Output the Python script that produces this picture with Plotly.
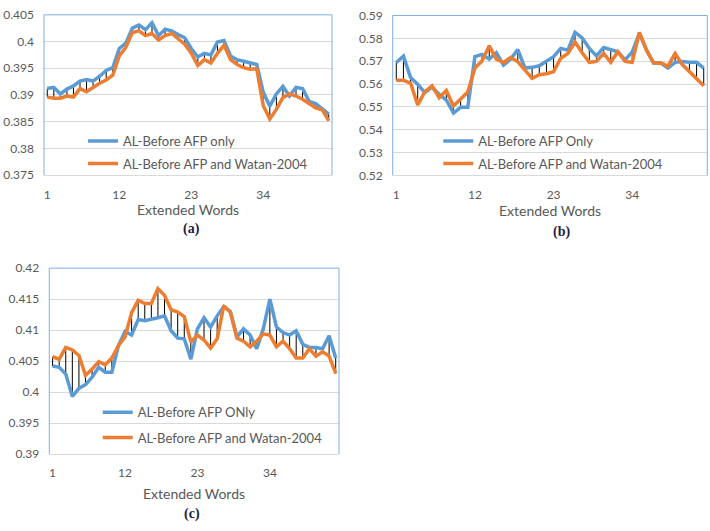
import plotly.graph_objects as go

# ---------------- data ----------------
words = list(range(1, 45))
x_ticks = [1, 12, 23, 34]

blue_a = [0.3912, 0.3914, 0.3902, 0.3911, 0.3917, 0.3926, 0.3929, 0.3926, 0.3935, 0.3946,
          0.3951, 0.3987, 0.3997, 0.4025, 0.4031, 0.4022, 0.4035, 0.4011, 0.4023, 0.4020,
          0.4013, 0.4007, 0.3987, 0.3971, 0.3978, 0.3975, 0.3999, 0.4002, 0.3973, 0.3966,
          0.3963, 0.3960, 0.3957, 0.3905, 0.3879, 0.3902, 0.3916, 0.3898, 0.3914, 0.3912,
          0.3888, 0.3884, 0.3873, 0.3864]
orange_a = [0.3896, 0.3894, 0.3894, 0.3898, 0.3896, 0.3912, 0.3906, 0.3914, 0.3922, 0.3928,
            0.3937, 0.3973, 0.3989, 0.4017, 0.4020, 0.4011, 0.4015, 0.4003, 0.4011, 0.4015,
            0.4005, 0.3995, 0.3978, 0.3955, 0.3966, 0.3960, 0.3978, 0.3993, 0.3966, 0.3957,
            0.3951, 0.3948, 0.3949, 0.3880, 0.3855, 0.3873, 0.3895, 0.3902, 0.3898, 0.3892,
            0.3884, 0.3876, 0.3872, 0.3852]

blue_b = [0.5694, 0.5722, 0.5628, 0.5599, 0.5562, 0.5586, 0.5555, 0.5530, 0.5473, 0.5498,
          0.5498, 0.5720, 0.5730, 0.5709, 0.5737, 0.5683, 0.5709, 0.5751, 0.5670, 0.5673,
          0.5680, 0.5701, 0.5720, 0.5756, 0.5748, 0.5826, 0.5802, 0.5756, 0.5723, 0.5760,
          0.5751, 0.5741, 0.5706, 0.5741, 0.5822, 0.5748, 0.5692, 0.5692, 0.5670, 0.5695,
          0.5699, 0.5695, 0.5695, 0.5670]
orange_b = [0.5616, 0.5616, 0.5604, 0.5508, 0.5567, 0.5592, 0.5540, 0.5572, 0.5504, 0.5532,
            0.5565, 0.5670, 0.5701, 0.5767, 0.5709, 0.5694, 0.5716, 0.5697, 0.5660, 0.5625,
            0.5641, 0.5645, 0.5654, 0.5713, 0.5734, 0.5784, 0.5737, 0.5695, 0.5699, 0.5734,
            0.5695, 0.5741, 0.5699, 0.5695, 0.5826, 0.5748, 0.5692, 0.5692, 0.5678, 0.5734,
            0.5685, 0.5655, 0.5625, 0.5593]

blue_c = [0.4042, 0.4040, 0.4029, 0.3993, 0.4006, 0.4012, 0.4024, 0.4040, 0.4032, 0.4032,
          0.4075, 0.4098, 0.4092, 0.4117, 0.4115, 0.4117, 0.4120, 0.4123, 0.4099, 0.4087,
          0.4086, 0.4053, 0.4102, 0.4120, 0.4105, 0.4123, 0.4138, 0.4130, 0.4089, 0.4102,
          0.4092, 0.4070, 0.4102, 0.4150, 0.4105, 0.4096, 0.4092, 0.4099, 0.4077, 0.4072,
          0.4072, 0.4070, 0.4091, 0.4055]
orange_c = [0.4057, 0.4053, 0.4072, 0.4068, 0.4059, 0.4027, 0.4037, 0.4049, 0.4044, 0.4055,
            0.4075, 0.4089, 0.4128, 0.4148, 0.4143, 0.4143, 0.4167, 0.4156, 0.4133, 0.4129,
            0.4122, 0.4081, 0.4092, 0.4084, 0.4071, 0.4086, 0.4139, 0.4129, 0.4087, 0.4082,
            0.4073, 0.4082, 0.4094, 0.4092, 0.4073, 0.4082, 0.4070, 0.4055, 0.4055, 0.4070,
            0.4058, 0.4065, 0.4058, 0.4030]

blue_names = ["AL-Before AFP only", "AL-Before AFP Only", "AL-Before AFP ONly"]
orange_name = "AL-Before AFP and Watan-2004"
panel_labels = ["(a)", "(b)", "(c)"]
x_title = "Extended Words"
y_ranges = [(0.375, 0.405, 0.005), (0.52, 0.59, 0.01), (0.39, 0.42, 0.005)]

# ---------------- style ----------------
W, H = 710, 531
BLUE = "#5B9BD5"
ORANGE = "#ED7D31"
GRID = "#D9D9D9"
FRAME = "#7FB0DE"
TXT = "#595959"
FONT = "Lato"

# plot-area pixel boxes (left, right, top, bottom)
boxes = [(44, 332, 7, 172), (392.7, 707.3, 7.7, 172.3), (49.3, 339, 267.7, 459)]
legend_pos = [(88, 137, 160), (443.3, 137, 160), (102.7, 416, 442)]
title_pos = [(188, 207), (550, 208), (194, 500)]
caption_pos = [(192, 227), (561, 231), (192, 521)]

fig = go.Figure()
layout = dict(width=W, height=H, margin=dict(l=0, r=0, t=0, b=0),
              plot_bgcolor="white", paper_bgcolor="white",
              font=dict(family=FONT, color=TXT, size=12), shapes=[], annotations=[])

panels = [(blue_a, orange_a), (blue_b, orange_b), (blue_c, orange_c)]
for i, (blue, orange) in enumerate(panels):
    sfx = "" if i == 0 else str(i + 1)
    xr, yr = "x" + sfx, "y" + sfx
    l, r, t, b = boxes[i]
    # high-low drop lines
    dx, dy = [], []
    for w, bv, ov in zip(words, blue, orange):
        dx += [w, w, None]
        dy += [bv, ov, None]
    fig.add_trace(go.Scatter(x=dx, y=dy, mode="lines", line=dict(color="black", width=1),
                             xaxis=xr, yaxis=yr, showlegend=False, hoverinfo="skip"))
    lg1 = "legend" + ("" if i == 0 else str(2 * i + 1))
    lg2 = "legend" + str(2 * i + 2)
    fig.add_trace(go.Scatter(x=words, y=blue, mode="lines", name=blue_names[i],
                             line=dict(color=BLUE, width=3.5), xaxis=xr, yaxis=yr, legend=lg1))
    fig.add_trace(go.Scatter(x=words, y=orange, mode="lines", name=orange_name,
                             line=dict(color=ORANGE, width=3.5), xaxis=xr, yaxis=yr, legend=lg2))
    y0, y1, dt = y_ranges[i]
    layout["xaxis" + sfx] = dict(domain=[l / W, r / W], anchor=yr, range=[0.5, 44.5],
                                 tickmode="array", tickvals=x_ticks, showgrid=False,
                                 showline=True, linecolor=GRID, linewidth=1, zeroline=False,
                                 ticks="", ticklabelstandoff=8,
                                 tickfont=dict(size=12, color=TXT, family=FONT))
    layout["yaxis" + sfx] = dict(domain=[1 - b / H, 1 - t / H], anchor=xr, range=[y0, y1],
                                 dtick=dt, tick0=y0, tickformat="~g", showgrid=True,
                                 gridcolor=GRID, gridwidth=1, zeroline=False, ticks="",
                                 showline=False, ticklabelstandoff=9,
                                 tickfont=dict(size=12, color=TXT, family=FONT))
    # blue frame on left, top, right
    for (x0, y0s, x1, y1s) in [(0, 0, 0, 1), (0, 1, 1, 1), (1, 0, 1, 1)]:
        layout["shapes"].append(dict(type="line", xref=xr + " domain", yref=yr + " domain",
                                     x0=x0, y0=y0s, x1=x1, y1=y1s,
                                     line=dict(color=FRAME, width=1)))
    lx, ly1, ly2 = legend_pos[i]
    for lg, ly in [(lg1, ly1), (lg2, ly2)]:
        layout[lg] = dict(x=(lx - 5) / W, xanchor="left", y=1 - ly / H, yanchor="middle",
                          bgcolor="rgba(0,0,0,0)", borderwidth=0,
                          font=dict(family=FONT, size=13, color=TXT))
    tx, ty = title_pos[i]
    layout["annotations"].append(dict(text=x_title, x=tx / W, y=1 - ty / H, xref="paper",
                                      yref="paper", showarrow=False, xanchor="center",
                                      yanchor="middle",
                                      font=dict(family=FONT, size=14, color=TXT)))
    cx, cy = caption_pos[i]
    layout["annotations"].append(dict(text="<b>" + panel_labels[i] + "</b>", x=cx / W,
                                      y=1 - cy / H, xref="paper", yref="paper",
                                      showarrow=False, xanchor="center", yanchor="middle",
                                      font=dict(family="Liberation Serif", size=14,
                                                color="#1F2041")))

fig.update_layout(**layout)
fig.write_html("out.html")
